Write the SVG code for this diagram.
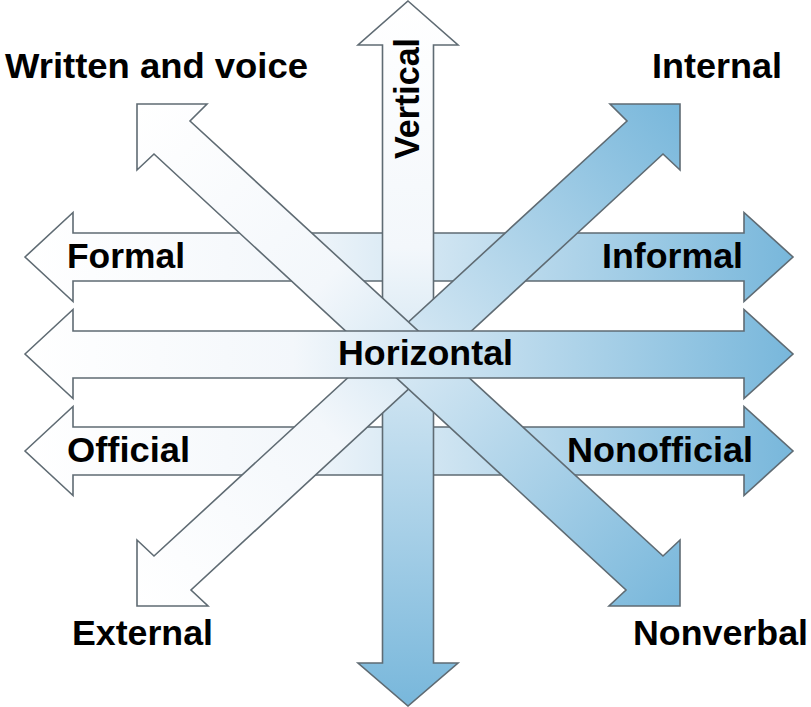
<svg xmlns="http://www.w3.org/2000/svg" width="811" height="707" viewBox="0 0 811 707">
<defs>
<linearGradient id="gh" gradientUnits="userSpaceOnUse" x1="25" y1="0" x2="793" y2="0">
<stop offset="0" stop-color="#ffffff"/><stop offset="0.35" stop-color="#f3f7fb"/><stop offset="1" stop-color="#78b7db"/>
</linearGradient>
<linearGradient id="gv" gradientUnits="userSpaceOnUse" x1="0" y1="1" x2="0" y2="706">
<stop offset="0" stop-color="#ffffff"/><stop offset="0.35" stop-color="#f3f7fb"/><stop offset="1" stop-color="#78b7db"/>
</linearGradient>
<linearGradient id="ga" gradientUnits="userSpaceOnUse" x1="137" y1="104" x2="680" y2="606">
<stop offset="0" stop-color="#ffffff"/><stop offset="0.35" stop-color="#f3f7fb"/><stop offset="1" stop-color="#78b7db"/>
</linearGradient>
<linearGradient id="gb" gradientUnits="userSpaceOnUse" x1="137" y1="606" x2="680" y2="104">
<stop offset="0" stop-color="#ffffff"/><stop offset="0.35" stop-color="#f3f7fb"/><stop offset="1" stop-color="#78b7db"/>
</linearGradient>
</defs>
<style>
.ar{stroke:#5f6b73;stroke-width:1.6;stroke-linejoin:miter}
.t{font-family:"Liberation Sans",Arial,sans-serif;font-weight:bold;font-size:35px;fill:#000}
</style>
<g id="connectors">
<g id="formal-informal">
<polygon class="ar" fill="url(#gh)" points="25,257 73,212.5 73,233 744,233 744,212.5 793,257 744,301.5 744,281 73,281 73,301.5"/>
</g>
<g id="official-nonofficial">
<polygon class="ar" fill="url(#gh)" points="25,451 73,406.5 73,427 744,427 744,406.5 793,451 744,495.5 744,475 73,475 73,495.5"/>
</g>
<g id="vertical">
<polygon class="ar" fill="url(#gv)" points="408,1 458,45 433.5,45 433.5,663 458,663 408,706 358,663 382.5,663 382.5,45 358,45"/>
</g>
<g id="internal-external">
<polygon class="ar" fill="url(#gb)" points="680,104 610,104 627,121 154,556 137,540 137,606 208,606 191,590 663,154 680,170"/>
</g>
<g id="written-nonverbal">
<polygon class="ar" fill="url(#ga)" points="137,104 207,104 190,121 663,556 680,540 680,606 609,606 626,590 154,154 137,170"/>
</g>
<g id="horizontal">
<polygon class="ar" fill="url(#gh)" points="25,354 73,309.5 73,331 744,331 744,309.5 793,354 744,398.5 744,378 73,378 73,398.5"/>
</g>
</g>
<g id="node-written"><text class="t" x="5" y="78" textLength="303" lengthAdjust="spacingAndGlyphs">Written and voice</text></g>
<g id="node-internal"><text class="t" x="652" y="78" textLength="130" lengthAdjust="spacingAndGlyphs">Internal</text></g>
<g id="node-vertical"><text class="t" transform="translate(419,159) rotate(-90)" x="0" y="0" textLength="121" lengthAdjust="spacingAndGlyphs">Vertical</text></g>
<g id="node-formal"><text class="t" x="67" y="268" textLength="118" lengthAdjust="spacingAndGlyphs">Formal</text></g>
<g id="node-informal"><text class="t" x="602" y="268" textLength="141" lengthAdjust="spacingAndGlyphs">Informal</text></g>
<g id="node-horizontal"><text class="t" x="338" y="365" textLength="175" lengthAdjust="spacingAndGlyphs">Horizontal</text></g>
<g id="node-official"><text class="t" x="67" y="462" textLength="123" lengthAdjust="spacingAndGlyphs">Official</text></g>
<g id="node-nonofficial"><text class="t" x="567" y="462" textLength="186" lengthAdjust="spacingAndGlyphs">Nonofficial</text></g>
<g id="node-external"><text class="t" x="72" y="645" textLength="141" lengthAdjust="spacingAndGlyphs">External</text></g>
<g id="node-nonverbal"><text class="t" x="633" y="645" textLength="175" lengthAdjust="spacingAndGlyphs">Nonverbal</text></g>
</svg>
